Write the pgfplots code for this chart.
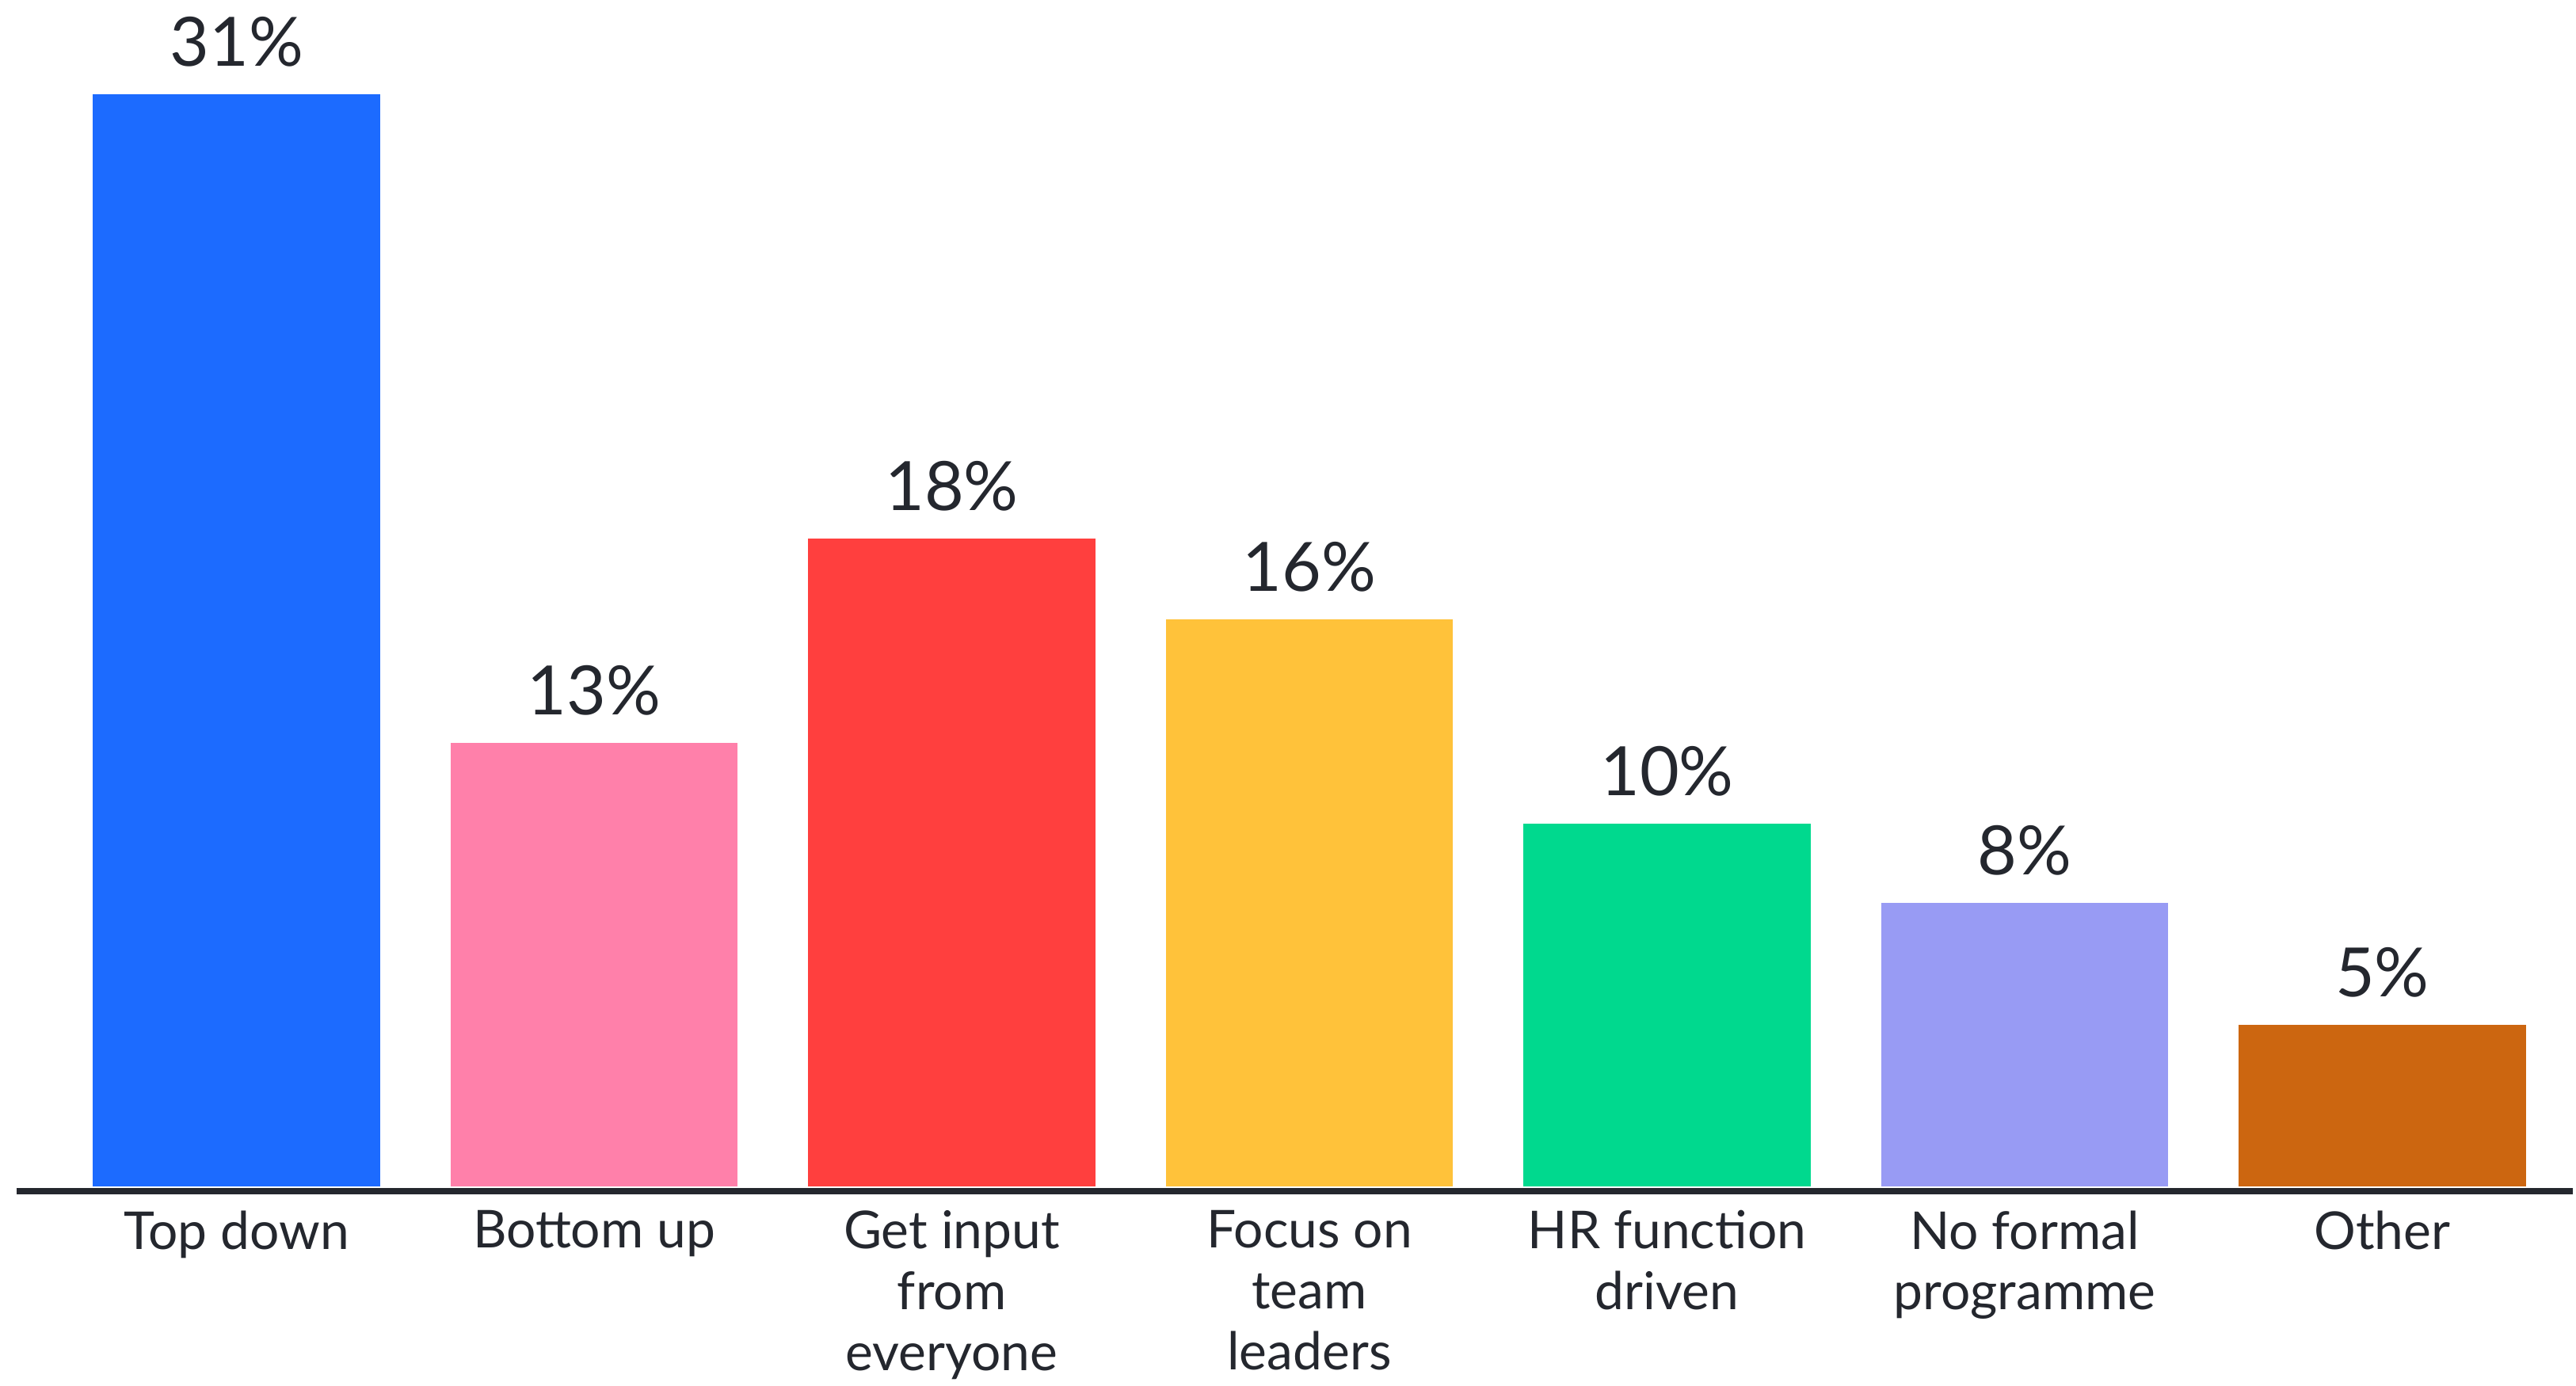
\documentclass[border=0pt]{standalone}
\usepackage{pgfplots}
\pgfplotsset{compat=1.18}
\usepackage{fontspec}
\setmainfont{Lato}

\definecolor{cBlue}{HTML}{1C6BFF}
\definecolor{cPink}{HTML}{FF80AA}
\definecolor{cRed}{HTML}{FF3F3E}
\definecolor{cYellow}{HTML}{FFC23A}
\definecolor{cGreen}{HTML}{00D98E}
\definecolor{cLav}{HTML}{989BF4}
\definecolor{cOrange}{HTML}{CC6610}
\definecolor{cInk}{HTML}{24272E}

\begin{document}
\begin{tikzpicture}
\begin{axis}[
    scale only axis,
    width=807.75pt, height=376.4pt,
    xmin=-0.615, xmax=6.533,
    ymin=-0.12, ymax=33.67,
    axis x line*=bottom,
    axis y line=none,
    x axis line style={cInk, line width=2pt, -},
    ybar, bar width=90.75pt, bar shift=0pt,
    xtick={0,...,6},
    xticklabels={Top down, Bottom up, Get input\\from\\everyone, Focus on\\team\\leaders, HR function\\driven, No formal\\programme, Other},
    xticklabel style={font=\fontsize{16.5}{19.2}\selectfont, align=center, text=cInk, inner sep=0pt, yshift=-6pt},
    major tick length=0pt,
    point meta=explicit symbolic,
    nodes near coords,
    every node near coord/.append style={font=\fontsize{21.5}{26}\selectfont, text=cInk, anchor=base, inner sep=0pt, yshift=8.8pt},
    clip=false,
]
\addplot[draw=none, fill=cBlue]   coordinates {(0,31.0) [31\%]};
\addplot[draw=none, fill=cPink]   coordinates {(1,12.6) [13\%]};
\addplot[draw=none, fill=cRed]    coordinates {(2,18.4) [18\%]};
\addplot[draw=none, fill=cYellow] coordinates {(3,16.1) [16\%]};
\addplot[draw=none, fill=cGreen]  coordinates {(4,10.3) [10\%]};
\addplot[draw=none, fill=cLav]    coordinates {(5,8.05) [8\%]};
\addplot[draw=none, fill=cOrange] coordinates {(6,4.6) [5\%]};
\coordinate (bl) at (rel axis cs:0,0);
\coordinate (tr) at (rel axis cs:1,1);
\end{axis}
\path[use as bounding box] ([xshift=-5.25pt, yshift=-61.5pt]bl) rectangle (tr);
\end{tikzpicture}
\end{document}
